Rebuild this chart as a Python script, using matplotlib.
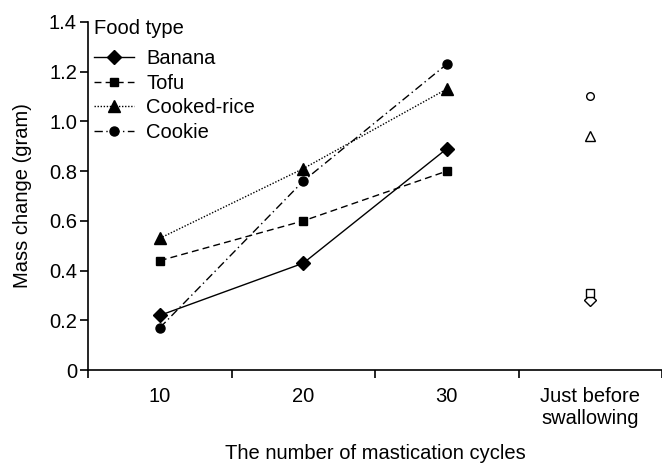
import numpy as np
import matplotlib.pyplot as plt

plt.rcParams['font.family'] = ['Liberation Sans', 'DejaVu Sans']

categories = ["10", "20", "30", "Just before\nswallowing"]
foods = ["Banana", "Tofu", "Cooked-rice", "Cookie"]
# values at 10, 20, 30 cycles
banana = [0.22, 0.43, 0.89]
tofu = [0.44, 0.60, 0.80]
rice = [0.53, 0.81, 1.13]
cookie = [0.17, 0.76, 1.23]
# values just before swallowing
swallow = [0.28, 0.31, 0.94, 1.10]

markers = ["D", "s", "^", "o"]
styles = ["-", (0, (5, 3)), (0, (1, 1.2)), (0, (6, 2.5, 1, 2.5))]
msizes = [7.5, 6, 8, 6.5]
open_sizes = [6, 5.5, 6.5, 5.5]

fs = 14.5

fig, ax = plt.subplots(figsize=(6.62, 4.65), dpi=100)
fig.subplots_adjust(left=0.133, right=1.0, bottom=0.204, top=0.953)

x = np.arange(3)
for vals, name, m, ls, ms in zip([banana, tofu, rice, cookie], foods, markers, styles, msizes):
    ax.plot(x, vals, color="black", linestyle=ls, linewidth=1, marker=m,
            markersize=ms, label=name)

# open markers for the "just before swallowing" point
for val, m, ms in zip(swallow, markers, open_sizes):
    ax.plot(3, val, linestyle="none", marker=m, markersize=ms,
            markerfacecolor="white", markeredgecolor="black", markeredgewidth=1)

ax.set_xlim(-0.5, 3.5)
ax.set_ylim(0, 1.4)
ax.set_yticks(np.arange(0, 1.41, 0.2))
ax.set_yticklabels(["0", "0.2", "0.4", "0.6", "0.8", "1.0", "1.2", "1.4"])
ax.set_xticks(np.arange(-0.5, 3.6, 1))
ax.set_xticklabels([])
ax.set_xticks(np.arange(4), minor=True)
ax.set_xticklabels(categories, minor=True)
ax.tick_params(axis="x", which="minor", length=0, pad=12, labelsize=fs)
ax.tick_params(axis="x", which="major", length=6, width=1.2, direction="out")
ax.tick_params(axis="y", length=6, width=1.2, direction="out", labelsize=fs, pad=2)

for s in ["top", "right"]:
    ax.spines[s].set_visible(False)
for s in ["left", "bottom"]:
    ax.spines[s].set_linewidth(1.2)

ax.set_ylabel("Mass change (gram)", fontsize=fs, labelpad=12)
ax.set_xlabel("The number of mastication cycles", fontsize=fs, labelpad=12)

leg = ax.legend(title="Food type", loc="upper left", frameon=False, fontsize=fs,
                title_fontsize=fs, handlelength=2.0, handletextpad=0.6,
                labelspacing=0.27, borderaxespad=0.1, borderpad=0.2,
                bbox_to_anchor=(0.0, 1.025))
leg._legend_box.align = "left"
leg._legend_box.sep = 8

fig.savefig("out.png", dpi=100)
